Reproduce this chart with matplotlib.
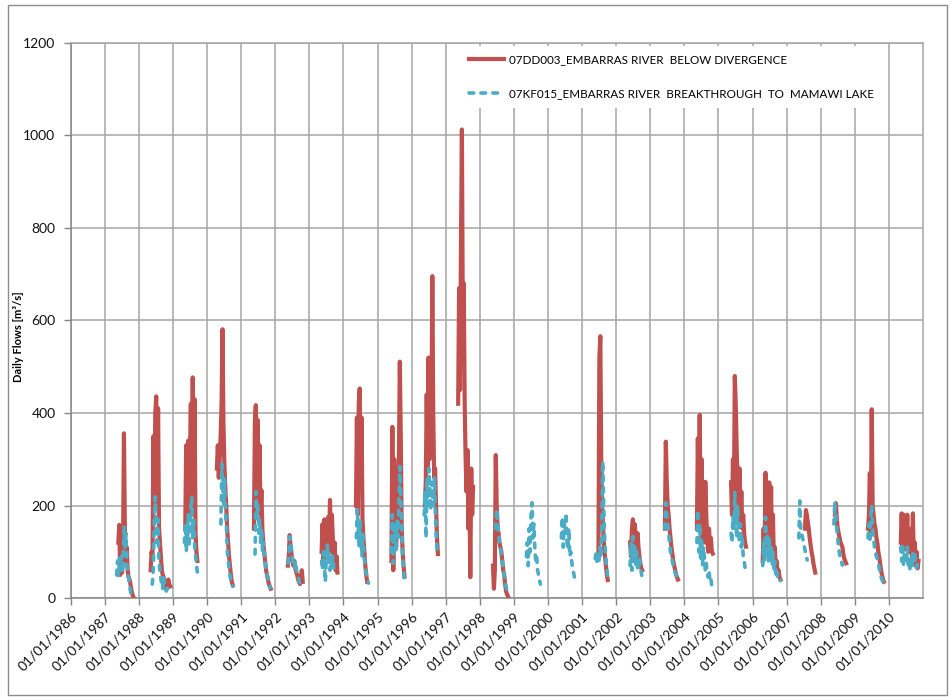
import numpy as np
import pandas as pd
import matplotlib
matplotlib.use('Agg')
import matplotlib.pyplot as plt
from matplotlib.patches import Rectangle

plt.rcParams['font.family'] = ['Lato', 'DejaVu Sans']

# open-water records, one reading every STEP_DAYS from each season's start date
STEP_DAYS = 10

dd003_label = '07DD003_EMBARRAS RIVER  BELOW DIVERGENCE'
kf015_label = '07KF015_EMBARRAS RIVER  BREAKTHROUGH  TO  MAMAWI LAKE'

dd003_start = ['1987-05-26', '1988-05-06', '1989-05-12', '1990-04-16', '1991-05-18',
               '1992-05-15', '1993-05-12', '1994-05-15', '1995-05-30', '1996-05-22',
               '1997-05-14', '1998-05-22', '2001-06-25', '2002-05-30', '2003-06-07',
               '2004-05-15', '2005-05-16', '2006-04-20', '2007-07-17', '2008-06-02',
               '2009-05-22', '2010-05-08']
dd003_flow = [
    [120, 158, 50, 140, 55, 100, 356, 150, 80, 110, 60, 45, 40, 30, 18, 8, 3],
    [60, 100, 90, 350, 200, 400, 436, 250, 410, 150, 120, 90, 60, 50, 45, 30, 25, 20, 35, 40, 30, 25],
    [150, 330, 120, 340, 200, 300, 420, 180, 477, 250, 430, 140, 100, 80],
    [280, 330, 260, 300, 350, 420, 581, 380, 290, 240, 200, 150, 120, 90, 70, 50, 35, 28],
    [150, 380, 417, 200, 385, 250, 330, 180, 233, 150, 120, 100, 80, 60, 50, 40, 30, 25, 20],
    [70, 90, 136, 110, 95, 80, 70, 80, 65, 55, 50, 40, 35, 30, 45, 60, 35],
    [100, 160, 80, 170, 90, 150, 110, 175, 120, 212, 100, 180, 130, 70, 120, 60, 90, 55],
    [200, 390, 180, 420, 453, 250, 390, 170, 130, 100, 70, 50, 35],
    [80, 370, 60, 300, 150, 110, 200, 140, 300, 511, 350, 150, 100, 70, 46],
    [200, 250, 440, 280, 520, 300, 480, 350, 696, 400, 260, 280, 200, 130, 95],
    [420, 670, 450, 760, 1013, 600, 680, 420, 300, 230, 320, 150, 260, 45, 280, 180, 240],
    [70, 20, 60, 309, 200, 150, 140, 120, 110, 100, 80, 60, 50, 30, 15, 8, 4],
    [90, 520, 566, 300, 200, 150, 110, 90, 70, 50, 39],
    [120, 90, 150, 170, 100, 160, 130, 80, 140, 110, 90, 75, 65, 60],
    [150, 338, 250, 200, 180, 150, 130, 110, 95, 80, 70, 60, 50, 45, 40],
    [150, 345, 200, 396, 160, 300, 130, 250, 120, 251, 180, 130, 100, 150, 110, 130, 100, 96],
    [250, 180, 300, 200, 480, 420, 324, 250, 200, 280, 160, 230, 150, 180, 140, 120, 111],
    [80, 150, 90, 271, 120, 200, 100, 250, 130, 240, 90, 180, 70, 110, 60, 80, 50, 60, 45, 40],
    [150, 190, 180, 165, 150, 130, 115, 100, 90, 75, 65, 55],
    [180, 205, 170, 150, 140, 130, 120, 115, 110, 95, 85, 80, 75],
    [150, 180, 270, 140, 408, 200, 180, 160, 150, 130, 120, 100, 90, 75, 60, 50, 40, 35],
    [120, 183, 110, 180, 105, 175, 120, 180, 100, 130, 100, 150, 90, 183, 80, 120, 70, 100, 64, 80],
]

kf015_start = ['1987-05-08', '1988-05-24', '1989-05-03', '1990-05-29', '1991-05-30',
               '1992-05-18', '1993-05-12', '1994-05-19', '1995-05-30', '1996-05-15',
               '1998-06-21', '1999-05-15', '2000-05-24', '2001-05-22', '2002-05-30',
               '2003-06-07', '2004-05-15', '2005-05-16', '2006-04-20', '2007-05-12',
               '2008-05-22', '2009-05-22', '2010-05-08']
kf015_flow = [
    [50, 80, 45, 85, 60, 90, 55, 75, 155, 110, 140, 70, 55, 40, 25, 12, 4],
    [30, 60, 150, 219, 180, 120, 170, 90, 60, 45, 30, 20, 45, 35, 20, 15, 20, 25, 20, 15],
    [120, 160, 100, 140, 180, 110, 150, 200, 219, 130, 170, 110, 90, 70, 55, 46],
    [160, 290, 240, 200, 260, 180, 150, 100, 80, 60, 45, 35, 30, 25],
    [95, 230, 180, 200, 140, 170, 120, 150, 100, 120, 90, 75, 60, 50, 40, 30, 22],
    [75, 95, 133, 115, 100, 80, 70, 65, 80, 60, 50, 45, 35, 30, 25, 22],
    [80, 60, 100, 70, 35, 90, 115, 75, 100, 60, 85, 70, 90, 65, 55],
    [130, 191, 150, 110, 170, 130, 90, 140, 100, 80, 60, 50, 40, 32],
    [100, 180, 75, 140, 160, 100, 170, 130, 200, 284, 220, 150, 90, 60, 35],
    [180, 230, 130, 260, 200, 280, 240, 190, 250, 220, 200, 260, 180, 130, 95],
    [150, 192, 170, 140, 120, 110, 90, 80, 60, 50, 35, 25, 15],
    [90, 120, 70, 150, 100, 180, 206, 130, 160, 110, 80, 90, 60, 50, 40, 30],
    [130, 175, 110, 160, 140, 184, 120, 105, 150, 90, 100, 80, 65, 55, 45, 38, 32],
    [85, 100, 75, 95, 80, 110, 90, 150, 295, 200, 130, 95, 70, 50, 35],
    [70, 120, 60, 133, 80, 110, 70, 100, 65, 60, 90, 70, 55, 42],
    [150, 206, 180, 160, 140, 120, 100, 90, 80, 70, 60, 55, 50, 45, 40],
    [120, 190, 100, 160, 80, 130, 70, 110, 90, 60, 75, 55, 45, 60, 35, 40, 25, 21],
    [140, 120, 176, 150, 228, 170, 130, 200, 150, 120, 160, 110, 130, 90, 80, 65, 53],
    [70, 120, 80, 175, 100, 140, 80, 130, 90, 110, 70, 100, 60, 80, 50, 60, 45, 40, 35, 38],
    [130, 210, 150, 140, 130, 120, 110, 100, 90, 82],
    [160, 208, 180, 150, 130, 110, 95, 85, 80, 71],
    [130, 160, 120, 180, 201, 150, 130, 110, 100, 90, 85, 75, 65, 55, 45, 40, 35, 31],
    [110, 80, 118, 70, 100, 90, 75, 110, 65, 85, 61, 90, 70, 100, 80, 95, 70, 65, 75, 80],
]

year_ticks = list(range(1986, 2011))
y_ticks = [0, 200, 400, 600, 800, 1000, 1200]


def seasons_to_series(starts, flows):
    # join the seasons into one series, with a NaN gap over each winter
    dates, values = [], []
    for start, vals in zip(starts, flows):
        d = pd.date_range(start, periods=len(vals), freq=f'{STEP_DAYS}D')
        dates.extend(d)
        values.extend(vals)
        dates.append(d[-1] + pd.Timedelta(days=1))
        values.append(np.nan)
    return pd.to_datetime(dates), np.array(values, dtype=float)


red_x, red_y = seasons_to_series(dd003_start, dd003_flow)
blue_x, blue_y = seasons_to_series(kf015_start, kf015_flow)

fig = plt.figure(figsize=(9.52, 7.0), dpi=100)
ax = fig.add_axes([0.0743, 0.1457, 0.8952, 0.7929])

grid_col = '#a6a6a6'
ax.plot(red_x, red_y, color='#C0504D', lw=3.0, solid_joinstyle='round',
        label=dd003_label, zorder=3)
ax.plot(blue_x, blue_y, color='#4BACC6', lw=2.6, dashes=(1.3, 2.0),
        dash_capstyle='round', label=kf015_label, zorder=4)

ax.set_xlim(pd.Timestamp('1986-01-01'), pd.Timestamp('2011-01-01'))
ax.set_ylim(0, 1200)
ax.set_yticks(y_ticks)
ax.set_xticks([pd.Timestamp(f'{y}-01-01') for y in year_ticks])
ax.set_xticklabels([f'01/01/{y}' for y in year_ticks], rotation=45,
                   ha='right', va='top', rotation_mode='anchor')
ax.grid(True, color=grid_col, lw=1.1, zorder=0)
ax.set_axisbelow(True)
for s in ax.spines.values():
    s.set_color(grid_col)
    s.set_linewidth(1.1)
ax.spines['left'].set_color('#868686')
ax.spines['bottom'].set_color('#868686')
ax.tick_params(axis='both', direction='out', length=5, color='#868686',
               labelsize=10, labelcolor='#111111', width=1)
ax.tick_params(axis='x', pad=4)
ax.tick_params(axis='y', pad=6)

fig.text(0.019, 1 - 337 / 700, 'Daily Flows [m\u00b3/s]', rotation=90,
         ha='center', va='center', fontsize=8, fontweight='bold')

leg = ax.legend(loc='upper left', bbox_to_anchor=(0.451, 1.005),
                frameon=True, fancybox=False, facecolor='white',
                edgecolor='none', framealpha=1, fontsize=8.4,
                handlelength=3.0, labelspacing=2.0, borderpad=0.7,
                handletextpad=0.4)
leg.set_zorder(5)

fig.patches.append(Rectangle((8 / 952, 5 / 700), 939 / 952, 690 / 700,
                             transform=fig.transFigure, fill=False,
                             edgecolor='#8c8c8c', lw=1))

fig.savefig('out.png', dpi=100)
